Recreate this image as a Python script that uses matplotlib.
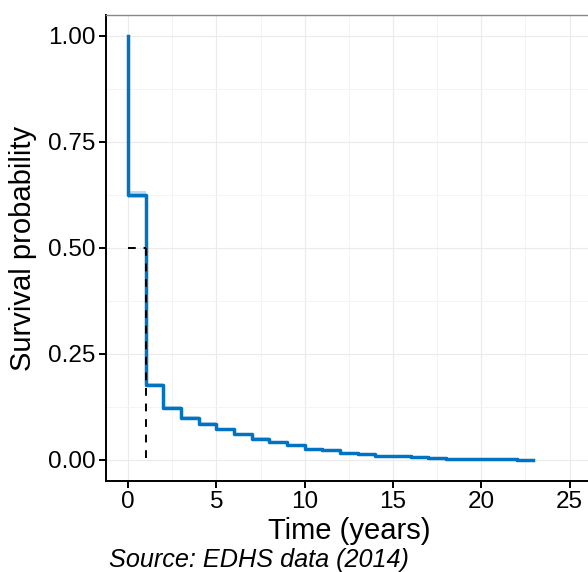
import matplotlib
matplotlib.use("Agg")
import matplotlib.pyplot as plt
from matplotlib.ticker import MultipleLocator

# Kaplan-Meier estimate
times = [0, 0, 1, 2, 3, 4, 5, 6, 7, 8, 9, 10, 11, 12, 13, 14, 16, 17, 18, 20, 22, 22.9]
surv = [1.0, 0.625, 0.177, 0.123, 0.099, 0.085, 0.072, 0.060, 0.050, 0.042,
        0.034, 0.026, 0.022, 0.0165, 0.0125, 0.009, 0.0055, 0.004, 0.0024,
        0.001, 0.0, 0.0]
ci_half = [0.0, 0.008, 0.005, 0.004, 0.004, 0.003, 0.003, 0.003, 0.003, 0.002,
           0.002, 0.002, 0.002, 0.002, 0.001, 0.001, 0.001, 0.001, 0.001,
           0.001, 0.0, 0.0]
median_time = 1.0
median_surv = 0.5

x_ticks = [0, 5, 10, 15, 20, 25]
y_ticks = [0.0, 0.25, 0.5, 0.75, 1.0]
y_tick_labels = ["0.00", "0.25", "0.50", "0.75", "1.00"]

plt.rcParams['font.family'] = ['Liberation Sans', 'DejaVu Sans']

W, H = 588, 572
fig = plt.figure(figsize=(W / 100, H / 100), dpi=100)
left, right, top, bottom = 106, 591.7, 14.5, 481
ax = fig.add_axes([left / W, 1 - bottom / H, (right - left) / W, (bottom - top) / H])

blue = "#0073C2"
lo = [s - c for s, c in zip(surv, ci_half)]
hi = [s + c for s, c in zip(surv, ci_half)]
ax.fill_between(times, lo, hi, step='post', color=blue, alpha=0.25, linewidth=0)
ax.step(times, surv, where='post', color=blue, linewidth=2.5, zorder=3)

# median survival lines
ax.plot([0, median_time], [median_surv, median_surv], color='black', linewidth=1.4,
        dashes=[4, 4], zorder=4)
ax.plot([median_time, median_time], [median_surv, 0], color='black', linewidth=1.4,
        dashes=[4, 4], zorder=4)

ax.set_xlim(-1.25, 26.25)
ax.set_ylim(-0.05, 1.05)
ax.set_xticks(x_ticks)
ax.set_yticks(y_ticks)
ax.set_yticklabels(y_tick_labels)
ax.xaxis.set_minor_locator(MultipleLocator(2.5))
ax.yaxis.set_minor_locator(MultipleLocator(0.125))
ax.grid(which='major', color='#EBEBEB', linewidth=0.8)
ax.grid(which='minor', color='#F2F2F2', linewidth=0.6)
ax.set_axisbelow(True)

for s in ['left', 'bottom']:
    ax.spines[s].set_color('black')
    ax.spines[s].set_linewidth(1.4)
for s in ['top', 'right']:
    ax.spines[s].set_color('#888888')
    ax.spines[s].set_linewidth(1.0)

ax.tick_params(axis='both', which='major', length=5, width=1.4, color='black',
               labelsize=17.5, labelcolor='black', pad=2.5)
ax.tick_params(axis='both', which='minor', length=0)

ax.set_xlabel("Time (years)", fontsize=21)
ax.xaxis.set_label_coords(0.5, -0.078)

fig.text(9 / W, 1 - 248 / H, "Survival probability", fontsize=21, rotation=90,
         ha='left', va='center')

fig.text(109 / W, 1 - 567 / H, "Source: EDHS data (2014)", fontsize=18.2,
         style='italic', ha='left', va='baseline')

fig.savefig("out.png", dpi=100)
